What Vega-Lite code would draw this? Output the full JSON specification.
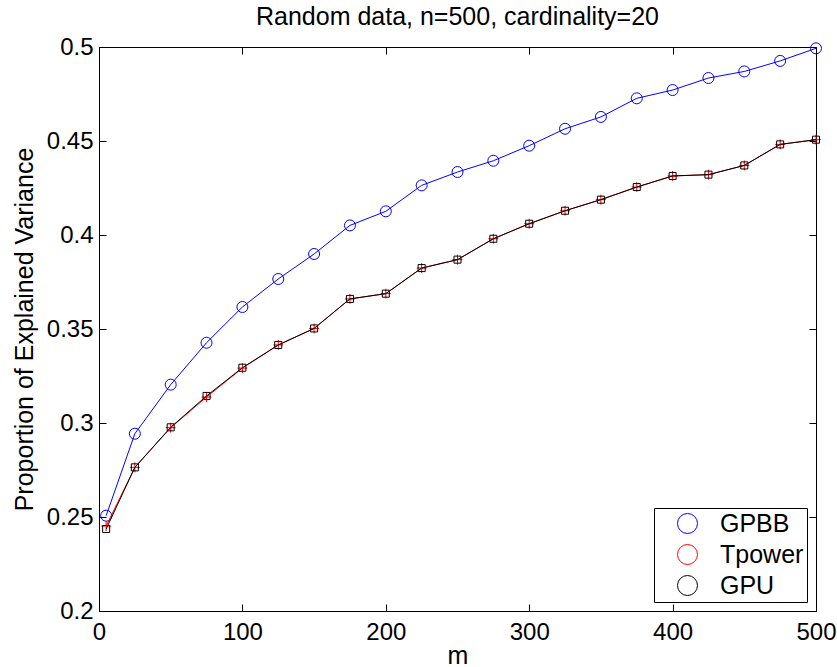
{
  "$schema": "https://vega.github.io/schema/vega-lite/v6.json",
  "width": 717,
  "height": 564,
  "autosize": {"type": "none"},
  "padding": {"left": 99, "top": 47, "right": 21, "bottom": 56},
  "background": "white",
  "title": {"text": "Random data, n=500, cardinality=20", "fontSize": 25, "font": "Liberation Sans", "fontWeight": "normal", "offset": 5, "color": "black"},
  "config": {
    "view": {"stroke": "black", "strokeWidth": 1},
    "axis": {"grid": false, "domainColor": "black", "tickColor": "black", "labelColor": "black", "titleColor": "black", "labelFont": "Liberation Sans", "titleFont": "Liberation Sans", "labelFontSize": 24, "titleFontSize": 25, "titleFontWeight": "normal", "domainWidth": 1, "tickWidth": 1}
  },
  "data": {"values": [
    {"m": 5, "series": "GPBB", "value": 0.2507},
    {"m": 25, "series": "GPBB", "value": 0.2943},
    {"m": 50, "series": "GPBB", "value": 0.3204},
    {"m": 75, "series": "GPBB", "value": 0.3427},
    {"m": 100, "series": "GPBB", "value": 0.3617},
    {"m": 125, "series": "GPBB", "value": 0.3766},
    {"m": 150, "series": "GPBB", "value": 0.3899},
    {"m": 175, "series": "GPBB", "value": 0.4051},
    {"m": 200, "series": "GPBB", "value": 0.4126},
    {"m": 225, "series": "GPBB", "value": 0.4264},
    {"m": 250, "series": "GPBB", "value": 0.4335},
    {"m": 275, "series": "GPBB", "value": 0.4395},
    {"m": 300, "series": "GPBB", "value": 0.4475},
    {"m": 325, "series": "GPBB", "value": 0.4565},
    {"m": 350, "series": "GPBB", "value": 0.4628},
    {"m": 375, "series": "GPBB", "value": 0.4727},
    {"m": 400, "series": "GPBB", "value": 0.4771},
    {"m": 425, "series": "GPBB", "value": 0.4835},
    {"m": 450, "series": "GPBB", "value": 0.4870},
    {"m": 475, "series": "GPBB", "value": 0.4926},
    {"m": 500, "series": "GPBB", "value": 0.4993},
    {"m": 5, "series": "Tpower", "value": 0.2452},
    {"m": 25, "series": "Tpower", "value": 0.2764},
    {"m": 50, "series": "Tpower", "value": 0.2975},
    {"m": 75, "series": "Tpower", "value": 0.3138},
    {"m": 100, "series": "Tpower", "value": 0.3292},
    {"m": 125, "series": "Tpower", "value": 0.3415},
    {"m": 150, "series": "Tpower", "value": 0.3503},
    {"m": 175, "series": "Tpower", "value": 0.3660},
    {"m": 200, "series": "Tpower", "value": 0.3688},
    {"m": 225, "series": "Tpower", "value": 0.3824},
    {"m": 250, "series": "Tpower", "value": 0.3869},
    {"m": 275, "series": "Tpower", "value": 0.3980},
    {"m": 300, "series": "Tpower", "value": 0.4060},
    {"m": 325, "series": "Tpower", "value": 0.4129},
    {"m": 350, "series": "Tpower", "value": 0.4188},
    {"m": 375, "series": "Tpower", "value": 0.4255},
    {"m": 400, "series": "Tpower", "value": 0.4314},
    {"m": 425, "series": "Tpower", "value": 0.4321},
    {"m": 450, "series": "Tpower", "value": 0.4370},
    {"m": 475, "series": "Tpower", "value": 0.4482},
    {"m": 500, "series": "Tpower", "value": 0.4507},
    {"m": 5, "series": "GPU", "value": 0.2436},
    {"m": 25, "series": "GPU", "value": 0.2764},
    {"m": 50, "series": "GPU", "value": 0.2977},
    {"m": 75, "series": "GPU", "value": 0.3144},
    {"m": 100, "series": "GPU", "value": 0.3294},
    {"m": 125, "series": "GPU", "value": 0.3415},
    {"m": 150, "series": "GPU", "value": 0.3503},
    {"m": 175, "series": "GPU", "value": 0.3660},
    {"m": 200, "series": "GPU", "value": 0.3688},
    {"m": 225, "series": "GPU", "value": 0.3824},
    {"m": 250, "series": "GPU", "value": 0.3869},
    {"m": 275, "series": "GPU", "value": 0.3980},
    {"m": 300, "series": "GPU", "value": 0.4060},
    {"m": 325, "series": "GPU", "value": 0.4129},
    {"m": 350, "series": "GPU", "value": 0.4188},
    {"m": 375, "series": "GPU", "value": 0.4255},
    {"m": 400, "series": "GPU", "value": 0.4314},
    {"m": 425, "series": "GPU", "value": 0.4321},
    {"m": 450, "series": "GPU", "value": 0.4370},
    {"m": 475, "series": "GPU", "value": 0.4482},
    {"m": 500, "series": "GPU", "value": 0.4507}
  ]},
  "layer": [
    {
      "mark": {"type": "point", "filled": false, "strokeWidth": 1, "opacity": 1, "size": 110},
      "encoding": {
        "x": {"field": "m", "type": "quantitative", "scale": {"domain": [0, 500], "nice": false, "zero": false},
          "axis": {"title": "m", "values": [0, 100, 200, 300, 400, 500], "tickSize": -7, "labelPadding": 16, "titlePadding": -1, "labelFlush": false}},
        "y": {"field": "value", "type": "quantitative", "scale": {"domain": [0.2, 0.5], "nice": false, "zero": false},
          "axis": {"title": "Proportion of Explained Variance", "values": [0.2, 0.25, 0.3, 0.35, 0.4, 0.45, 0.5], "format": ".2~f", "tickSize": -7, "labelPadding": 13, "titlePadding": 9, "labelFlush": false}},
        "color": {"field": "series", "type": "nominal", "scale": {"domain": ["GPBB", "Tpower", "GPU"], "range": ["#0000ff", "#ff0000", "#000000"]},
          "legend": {"title": null, "orient": "bottom-right", "offset": 9, "strokeColor": "black", "fillColor": "white", "padding": 3,
            "labelFontSize": 25, "labelFont": "Liberation Sans", "labelColor": "black", "symbolOffset": 18, "labelOffset": 20, "rowPadding": 5,
            "symbolSize": 400, "symbolStrokeWidth": 1,
            "encode": {"symbols": {
              "shape": {
                "condition": [
                  {"test": "datum.value === 'GPBB'", "value": "M-2.4,0H-0.38A0.38,0.38 0 1,1 0.38,0H2.4M0.38,0A0.38,0.38 0 1,1 -0.38,0"},
                  {"test": "datum.value === 'Tpower'", "value": "M-2.4,0H2.4M0,-0.42V0.42"}
                ],
                "value": "M-2.4,0H-0.27M0.27,0H2.4M-0.27,-0.27H0.27V0.27H-0.27Z"
              },
              "size": {"value": 400},
              "strokeWidth": {"value": 1},
              "fill": {"value": "transparent"}
            }}}},
        "shape": {"field": "series", "type": "nominal", "scale": {"domain": ["GPU", "Tpower", "GPBB"], "range": ["M-0.67,-0.67H0.67V0.67H-0.67Z", "M-0.95,0H0.95M0,-0.95V0.95", "M-1.05,0A1.05,1.05 0 1,1 1.05,0A1.05,1.05 0 1,1 -1.05,0"]}, "legend": null}
      }
    },
    {
      "mark": {"type": "line", "strokeWidth": 1},
      "encoding": {
        "x": {"field": "m", "type": "quantitative", "axis": {"orient": "top", "title": null, "labels": false, "values": [0, 100, 200, 300, 400, 500], "tickSize": -7, "domain": false}},
        "y": {"field": "value", "type": "quantitative", "axis": {"orient": "right", "title": null, "labels": false, "values": [0.2, 0.25, 0.3, 0.35, 0.4, 0.45, 0.5], "tickSize": -7, "domain": false}},
        "color": {"field": "series", "type": "nominal", "scale": {"domain": ["GPBB", "Tpower", "GPU"], "range": ["#0000ff", "#ff0000", "#000000"]}}
      }
    }
  ],
  "resolve": {"axis": {"x": "independent", "y": "independent"}}
}
